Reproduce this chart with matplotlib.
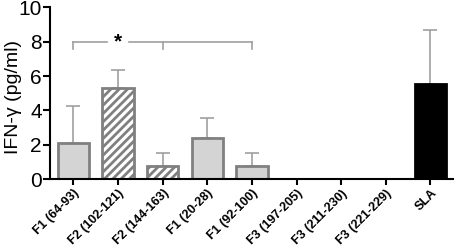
import matplotlib
matplotlib.use('Agg')
import matplotlib.pyplot as plt
import numpy as np

plt.rcParams['font.family'] = ['Liberation Sans', 'DejaVu Sans']
plt.rcParams['hatch.color'] = '#808080'
plt.rcParams['hatch.linewidth'] = 2.0

# Dados
peptides = ['F1 (64-93)', 'F2 (102-121)', 'F2 (144-163)', 'F1 (20-28)', 'F1 (92-100)',
            'F3 (197-205)', 'F3 (211-230)', 'F3 (221-229)', 'SLA']
means = [2.1, 5.32, 0.78, 2.37, 0.78, 0, 0, 0, 5.51]
upper_err = [2.15, 1.03, 0.75, 1.16, 0.75, 0, 0, 0, 3.17]
fills = ['#d4d4d4', 'white', 'white', '#d4d4d4', '#d4d4d4', '#d4d4d4', '#d4d4d4', '#d4d4d4', 'black']
hatches = ['', '////', '////', '', '', '', '', '', '']
edges = ['#808080'] * 8 + ['black']

fig = plt.figure(figsize=(4.56, 2.48), dpi=100)
ax = fig.add_axes([0.11, 0.278, 0.883, 0.692])

x = np.arange(len(peptides))
for i in range(len(peptides)):
    if means[i] == 0:
        continue
    ax.bar(x[i], means[i], width=0.7, color=fills[i], edgecolor=edges[i],
           linewidth=2, hatch=hatches[i], zorder=2)
    ax.errorbar(x[i], means[i], yerr=[[0], [upper_err[i]]], fmt='none',
                ecolor='#a0a0a0', elinewidth=1.2, capsize=5, capthick=1.2, zorder=1)

# Barra de significância
yb = 8.0
ax.plot([0, 0.75], [yb, yb], color='#a0a0a0', lw=1.2)
ax.plot([1.25, 4], [yb, yb], color='#a0a0a0', lw=1.2)
for xi in [0, 2, 4]:
    ax.plot([xi, xi], [yb, yb - 0.45], color='#a0a0a0', lw=1.2)
ax.text(1.0, yb, '*', ha='center', va='center', fontsize=15, fontweight='bold')

ax.set_xlim(-0.52, 8.5)
ax.set_ylim(0, 10)
ax.set_yticks([0, 2, 4, 6, 8, 10])
ax.set_xticks(x)
ax.set_xticklabels(peptides, rotation=45, ha='right', rotation_mode='anchor',
                   fontsize=9, fontweight='bold')
ax.tick_params(axis='y', labelsize=15, length=5, width=1.5, direction='out', pad=1)
ax.tick_params(axis='x', length=4, width=1.5, direction='out', pad=2)
ax.set_ylabel('IFN-γ (pg/ml)', fontsize=14)
ax.yaxis.set_label_coords(-0.07, 0.48)
ax.spines['top'].set_visible(False)
ax.spines['right'].set_visible(False)
ax.spines['left'].set_linewidth(1.5)
ax.spines['bottom'].set_linewidth(1.5)

fig.savefig('out.png', dpi=100)
